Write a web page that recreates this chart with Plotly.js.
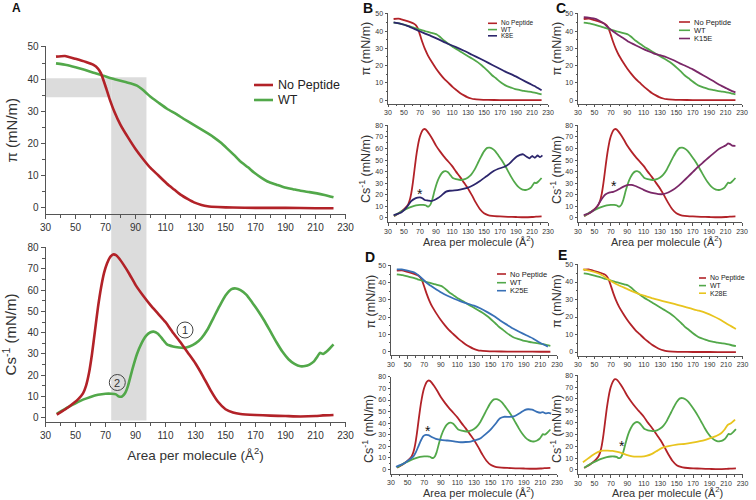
<!DOCTYPE html>
<html><head><meta charset="utf-8">
<script src="https://cdn.plot.ly/plotly-3.0.1.min.js"></script>
<style>html,body{margin:0;padding:0;background:#fff}</style>
</head><body>
<div id="chart" style="width:756px;height:500px"></div>
<script>
// ---------- DATA ----------
const legendNames = ["No Peptide", "WT", "K8E", "K15E", "K25E", "K28E"];
const xTickVals = [30, 50, 70, 90, 110, 130, 150, 170, 190, 210, 230];

// No Peptide: surface pressure
const npPiArea = [37, 43, 50, 57, 62, 65, 67, 70, 73, 76, 80, 85, 90, 95, 100, 105, 111, 116, 120, 125, 129, 134, 138, 145, 155, 170, 190, 210, 222];
const npPi     = [47, 47.2, 46.3, 45.3, 44.4, 43.3, 41.8, 37.8, 33.5, 29.8, 25.8, 21.9, 18.3, 15.2, 12.4, 10.2, 7.5, 5.6, 4.1, 2.7, 1.7, 0.9, 0.5, 0.25, 0.1, 0, 0, -0.1, -0.1];
// WT: surface pressure
const wtPiArea = [37, 44, 50, 56, 62, 67, 72, 76, 80, 84, 88, 91, 94, 97, 100, 105, 111, 117, 122, 128, 133, 138, 142, 147, 151, 156, 160, 165, 169, 174, 178, 184, 189, 195, 200, 206, 211, 216, 222];
const wtPi     = [44.9, 44.4, 43.7, 42.9, 42, 41.3, 40.5, 40, 39.5, 39, 38.5, 38, 37, 35.8, 34.5, 32.8, 30.8, 29.2, 27.7, 26, 24.6, 23.2, 22, 20.2, 18.5, 16.3, 14.4, 12.6, 11, 9.3, 8.2, 7.2, 6.4, 5.8, 5.3, 4.9, 4.5, 4.0, 3.3];
// No Peptide: compression modulus
const npCsArea = [37.5, 41, 45, 49, 52, 55, 57, 59, 61, 63, 65, 67, 69, 71, 73, 75, 77, 79, 82, 86, 90, 95, 100, 105, 110, 115, 120, 125, 130, 135, 140, 145, 150, 155, 160, 170, 180, 190, 200, 210, 215, 222];
const npCs     = [1.5, 3, 4.8, 7, 8.9, 11.5, 15, 21, 30, 41, 52, 61, 68, 72.5, 75.5, 76.8, 76.5, 75, 72, 67.5, 62.5, 57.5, 53, 49, 45, 40, 35.5, 30.5, 25.5, 19.5, 13, 7.5, 4, 2.5, 1.8, 1.3, 1.0, 0.8, 0.6, 0.8, 1.1, 1.3];
// WT: compression modulus
const wtCsArea = [37.5, 41, 45, 50, 55, 60, 65, 70, 74, 77, 79, 81, 83, 85, 88, 91, 94, 97, 100, 102, 105, 108, 111, 115, 119, 122, 126, 130, 134, 138, 142, 146, 150, 154, 157, 160, 164, 168, 172, 176, 180, 184, 188, 192, 196, 200, 203, 206, 209, 211, 213, 215, 218, 222];
const wtCs     = [1.8, 3.3, 5, 6.8, 8.5, 9.8, 10.8, 11.3, 11.3, 11, 10, 10, 11.5, 15, 23, 30, 35, 38.5, 40.2, 40.5, 39.5, 37, 34.5, 33.5, 33, 32.8, 33.5, 35, 37.5, 41.5, 47, 52.5, 57.5, 60.5, 60.8, 60, 57.8, 54, 50, 45.5, 40.5, 35.5, 31, 27.5, 25.3, 24.2, 24.3, 25, 26.5, 28.5, 30.5, 30, 31.5, 34.5];

// K8E
const k8ePiArea = [37, 45, 55, 67, 75, 84, 94, 104, 115, 125, 135, 146, 156, 166, 176, 187, 197, 207, 215, 222];
const k8ePi     = [45, 44.3, 42.9, 40.4, 38.8, 37.1, 35, 32.8, 30.7, 28.6, 26.3, 23.8, 21.4, 19, 16.6, 14.3, 11.9, 9.5, 7.6, 5.7];
const k8eCsArea = [37, 42, 47, 53, 59, 63, 67, 70, 73, 76, 80, 84, 88, 92, 97, 102, 107, 113, 120, 129, 137, 145, 153, 162, 168, 175, 181, 186, 191, 195, 199, 203, 207, 210, 213.5, 217, 220, 223];
const k8eCs     = [2.5, 3.5, 5, 9, 14.5, 16.5, 17.5, 17.8, 17, 15.5, 15, 14.5, 15.5, 17, 19.5, 22.5, 23.5, 23.8, 24.5, 26, 28.5, 32, 36, 40.5, 42.5, 44, 46.5, 50, 53, 54.5, 55, 53, 51.5, 53.5, 52, 54, 52.5, 54];
// K15E
const k15ePiArea = [37, 43, 49, 55, 61, 67, 73, 79, 85.5, 91, 97.6, 104, 110, 116, 122, 130, 138, 146, 154, 162, 170, 178, 187, 195, 203, 211, 216, 222];
const k15ePi     = [48, 47.8, 47.3, 46.3, 44.6, 42, 39.7, 37.7, 35.8, 34, 32.4, 30.9, 29.5, 28.3, 27.1, 26, 24.8, 23.2, 21.3, 19.6, 17.8, 15.6, 13.2, 11, 8.7, 6.8, 5.6, 4.5];
const k15eCsArea = [37, 43, 49, 53, 57, 60, 63, 66, 69, 73, 77, 81, 85.5, 91.5, 95, 99, 104, 110, 116, 122, 128, 134, 140, 146, 152, 158, 164, 170.5, 177, 183, 189, 195, 200, 205, 210, 213, 215, 218, 222];
const k15eCs     = [2.5, 3.8, 6.6, 9.5, 14.3, 17.5, 20, 21.3, 22, 22.6, 23.7, 25.3, 27.1, 28.6, 28.5, 27.8, 26.3, 24.3, 22.6, 21.4, 20.6, 20.6, 22, 24.3, 27.5, 31.4, 35.5, 40, 44.5, 48.3, 52, 55.6, 58.6, 60.8, 62.5, 64.5, 64, 62.5, 62.3];
// K25E
const k25ePiArea = [37, 43, 50, 58.7, 64, 70.5, 76, 82.4, 90, 98, 106, 114, 122, 130, 138, 146, 154, 161.5, 169, 177, 185, 193, 201, 209, 215, 219];
const k25ePi     = [47.8, 47.7, 47, 45.8, 44, 41, 38.8, 36.8, 34.5, 32.4, 30.7, 29.2, 27.9, 26.7, 25, 22.9, 20.6, 18.1, 15.8, 13.4, 11.4, 9.5, 7.6, 5.3, 3.8, 2.9];
const k25eCsArea = [36, 41, 47, 52, 57, 60, 63, 66, 69, 72, 75, 79, 84, 90, 98, 106, 114, 120, 126, 132, 138, 144, 150, 156, 161, 166, 173, 178, 181, 186, 191, 195, 200, 205, 210, 213, 216, 220, 223];
const k25eCs     = [2.3, 3.7, 5.7, 8.5, 11.3, 15, 20, 25, 28.8, 29.9, 29.6, 28, 26.5, 25.6, 25, 24.2, 23.5, 23.7, 24.1, 25.3, 27, 30.5, 34.5, 39.5, 44, 45.5, 45.4, 45.8, 46.8, 49, 51.3, 52, 51.6, 50, 49, 49.5, 48.5, 48.8, 48.3];
// K28E
const k28ePiArea = [36, 45, 56, 64, 72, 80, 89, 97, 105, 113, 121, 129, 137, 147, 157, 167, 177, 186, 194, 202, 210, 216, 222];
const k28ePi     = [47.2, 46.3, 44.7, 42.5, 40, 38, 36.2, 34.5, 33, 31.8, 30.6, 29.6, 28.7, 27.5, 26.2, 24.9, 23.6, 22.2, 20.6, 18.7, 16.4, 14.8, 13.2];
const k28eCsArea = [36, 42, 48, 54, 60, 66, 72, 78, 84, 90, 96, 101, 107, 113, 120, 127, 133, 140, 150, 160, 169, 180, 190, 198, 204, 208, 212, 216, 221];
const k28eCs     = [6.5, 9.5, 12.6, 15, 16.3, 16.3, 16, 15.2, 14, 12.5, 11.5, 11.2, 11.2, 11.8, 13.5, 16.5, 18.8, 20, 21.3, 22, 23, 24.5, 26.7, 28.7, 31, 34, 38, 39.5, 42.5];

// shaded region of panel A (area and pressure bounds)
const shadeArea = [73.8, 97.3];
const shadePi = [34.4, 40.3];

// ---------- STYLE ----------
const RED = "rgb(178,34,40)", GREEN = "rgb(82,168,74)";
const mutColors = ["rgb(44,38,108)", "rgb(122,40,104)", "rgb(56,112,182)", "rgb(232,196,30)"];
const FONT = "Liberation Sans, Arial, sans-serif";
const AXC = "#555";
const px = x => x / 756;
const py = y => 1 - y / 500;
const PI_TITLE = "π (mN/m)", CS_TITLE = "Cs<sup>-1</sup> (mN/m)", AREA_TITLE = "Area per molecule (Å<sup>2</sup>)";

const traces = [];
function tr(x, y, color, n, w) {
  traces.push({x: x, y: y, type: "scatter", mode: "lines", xaxis: "x" + (n === 1 ? "" : n), yaxis: "y" + (n === 1 ? "" : n),
    line: {color: color, width: w, shape: "spline", smoothing: 0.5}, showlegend: false, hoverinfo: "skip"});
}
// Panel A
tr(wtPiArea, wtPi, GREEN, 1, 2.6);
tr(npPiArea, npPi, RED, 1, 2.6);
tr(wtCsArea, wtCs, GREEN, 2, 2.6);
tr(npCsArea, npCs, RED, 2, 2.6);
// Panels B-E
const mutPi = [[k8ePiArea, k8ePi], [k15ePiArea, k15ePi], [k25ePiArea, k25ePi], [k28ePiArea, k28ePi]];
const mutCs = [[k8eCsArea, k8eCs], [k15eCsArea, k15eCs], [k25eCsArea, k25eCs], [k28eCsArea, k28eCs]];
for (let i = 0; i < 4; i++) {
  const nt = 3 + 2 * i, nb = 4 + 2 * i;
  tr(npPiArea, npPi, RED, nt, 1.8);
  tr(wtPiArea, wtPi, GREEN, nt, 1.8);
  tr(mutPi[i][0], mutPi[i][1], mutColors[i], nt, 1.8);
  tr(npCsArea, npCs, RED, nb, 1.8);
  tr(wtCsArea, wtCs, GREEN, nb, 1.8);
  tr(mutCs[i][0], mutCs[i][1], mutColors[i], nb, 1.8);
}

// ---------- AXES ----------
const layout = {
  width: 756, height: 500, margin: {l: 0, r: 0, t: 0, b: 0},
  paper_bgcolor: "#fff", plot_bgcolor: "rgba(0,0,0,0)",
  font: {family: FONT, color: "#333"}, showlegend: false,
  shapes: [], annotations: []
};
function xa(dom, anchor, big, title) {
  const o = {domain: [px(dom[0]), px(dom[1])], anchor: anchor, range: [30, 230], tickvals: xTickVals,
    showline: true, linecolor: AXC, linewidth: 1, ticks: "outside", ticklen: big ? 4 : 2.5, tickcolor: AXC,
    minor: {tickvals: [40, 60, 80, 100, 120, 140, 160, 180, 200, 220], ticks: "outside", ticklen: big ? 2.5 : 1.5, tickcolor: AXC},
    showgrid: false, zeroline: false, automargin: false,
    tickfont: {size: big ? 10 : 7, family: FONT, color: "#333"}};
  if (title) o.title = {text: AREA_TITLE, font: {size: 13.5, family: FONT, color: "#333"}, standoff: 10};
  return o;
}
function ya(dom, anchor, big, isPi) {
  const o = {domain: [py(dom[1]), py(dom[0])], anchor: anchor,
    range: isPi ? [-2, 50.3] : [big ? -2 : -3.5, 80.3], dtick: 10, tick0: 0,
    showline: true, linecolor: AXC, linewidth: 1, ticks: "outside", ticklen: big ? 4 : 2.5, tickcolor: AXC,
    minor: {dtick: 5, ticks: "outside", ticklen: big ? 2.5 : 1.5, tickcolor: AXC},
    showgrid: false, zeroline: false, automargin: false,
    tickfont: {size: big ? 10 : 7, family: FONT, color: "#333"}};
  if (big) o.title = {text: isPi ? PI_TITLE : CS_TITLE, font: {size: 15, family: FONT, color: "#333"}, standoff: isPi ? 6 : 10};
  return o;
}
// panel pixel boxes: [x0,x1], top y [y0,y1], bottom y [y0,y1]; title centres for small panels
const panels = [
  {x: [45.5, 345.5], t: [46, 214.3], b: [247, 422], big: true},
  {x: [388, 548], t: [13.3, 103.5], b: [125, 222], big: false, piT: [366, 48.5], csT: [365, 169], arT: [478, 241]},
  {x: [578, 742], t: [13.3, 103.5], b: [125, 222], big: false, piT: [557, 48.5], csT: [556, 170], arT: [666, 241]},
  {x: [391, 557], t: [265, 355], b: [376.5, 473.5], big: false, piT: [370, 301.5], csT: [368, 429], arT: [478, 492]},
  {x: [578, 742.5], t: [264, 355.5], b: [375, 474], big: false, piT: [557, 301], csT: [556, 429], arT: [667, 492]}
];
panels.forEach((p, i) => {
  const nt = 1 + 2 * i, nb = 2 + 2 * i;
  const kt = nt === 1 ? "" : nt, kb = nb;
  layout["xaxis" + kt] = xa(p.x, "y" + kt, p.big, false);
  layout["yaxis" + kt] = ya(p.t, "x" + kt, p.big, true);
  layout["xaxis" + kb] = xa(p.x, "y" + kb, p.big, p.big);
  layout["yaxis" + kb] = ya(p.b, "x" + kb, p.big, false);
  if (!p.big) {
    layout.annotations.push({xref: "paper", yref: "paper", x: px(p.piT[0]), y: py(p.piT[1]), xanchor: "center", yanchor: "middle",
      textangle: -90, text: PI_TITLE, showarrow: false, font: {size: 12.5, family: FONT, color: "#333"}});
    layout.annotations.push({xref: "paper", yref: "paper", x: px(p.csT[0]), y: py(p.csT[1]), xanchor: "center", yanchor: "middle",
      textangle: -90, text: CS_TITLE, showarrow: false, font: {size: 12.5, family: FONT, color: "#333"}});
    layout.annotations.push({xref: "paper", yref: "paper", x: px(p.arT[0]), y: py(p.arT[1]), xanchor: "center", yanchor: "middle",
      text: AREA_TITLE, showarrow: false, font: {size: 11, family: FONT, color: "#333"}});
  }
});

// ---------- SHADING (panel A) ----------
layout.shapes.push({type: "rect", layer: "below", xref: "x", yref: "paper", x0: shadeArea[0], x1: shadeArea[1],
  y0: py(420.5), y1: py(77.3), fillcolor: "#dcdcdc", line: {width: 0}});
layout.shapes.push({type: "rect", layer: "below", xref: "x", yref: "y", x0: 30, x1: shadeArea[0],
  y0: shadePi[0], y1: shadePi[1], fillcolor: "#dcdcdc", line: {width: 0}});

// ---------- LEGENDS (manual) ----------
function legend(x0, x1, xt, ys, names, colors, size, lw) {
  names.forEach((n, i) => {
    layout.shapes.push({type: "line", xref: "paper", yref: "paper", x0: px(x0), x1: px(x1), y0: py(ys[i]), y1: py(ys[i]),
      line: {color: colors[i], width: lw}});
    layout.annotations.push({xref: "paper", yref: "paper", x: px(xt), y: py(ys[i]), xanchor: "left", yanchor: "middle",
      text: n, showarrow: false, font: {size: size, family: FONT, color: "#222"}});
  });
}
legend(254, 273, 276, [85, 100], [legendNames[0], legendNames[1]], [RED, GREEN], 12.5, 2.6);
legend(488, 497, 499, [23.3, 29.6, 35.8], [legendNames[0], legendNames[1], legendNames[2]], [RED, GREEN, mutColors[0]], 6.5, 1.6);
legend(679, 690, 692, [22, 30.3, 38.5], [legendNames[0], legendNames[1], legendNames[3]], [RED, GREEN, mutColors[1]], 7.5, 1.6);
legend(497, 506, 508, [274, 282.7, 290.7], [legendNames[0], legendNames[1], legendNames[4]], [RED, GREEN, mutColors[2]], 7.5, 1.6);
legend(699, 706, 708, [278, 285.6, 293.2], [legendNames[0], legendNames[1], legendNames[5]], [RED, GREEN, mutColors[3]], 7, 1.6);

// ---------- PANEL LETTERS ----------
[["A", 16, 8, 12], ["B", 367.5, 7.5, 14], ["C", 561, 7.5, 14], ["D", 369.5, 257, 14], ["E", 562, 255, 14]].forEach(l => {
  layout.annotations.push({xref: "paper", yref: "paper", x: px(l[1]), y: py(l[2]), xanchor: "center", yanchor: "middle",
    text: "<b>" + l[0] + "</b>", showarrow: false, font: {size: l[3], family: FONT, color: "#111"}});
});

// ---------- ASTERISKS ----------
[[420, 190.7], [614.3, 183.3], [427.7, 427.7], [621.7, 442.7]].forEach(a => {
  layout.annotations.push({xref: "paper", yref: "paper", x: px(a[0]), y: py(a[1] + 3), xanchor: "center", yanchor: "middle",
    text: "*", showarrow: false, font: {size: 14, family: FONT, color: "#111"}});
});

// ---------- CIRCLED NUMBERS (panel A) ----------
[["1", 185, 330], ["2", 117.3, 382.5]].forEach(c => {
  layout.shapes.push({type: "circle", xref: "paper", yref: "paper", x0: px(c[1] - 8), x1: px(c[1] + 8), y0: py(c[2] + 8), y1: py(c[2] - 8),
    line: {color: "#444", width: 1}});
  layout.annotations.push({xref: "paper", yref: "paper", x: px(c[1]), y: py(c[2]), xanchor: "center", yanchor: "middle",
    text: c[0], showarrow: false, font: {size: 11, family: FONT, color: "#333"}});
});

Plotly.newPlot("chart", traces, layout, {staticPlot: true, displayModeBar: false});
</script>
</body></html>
